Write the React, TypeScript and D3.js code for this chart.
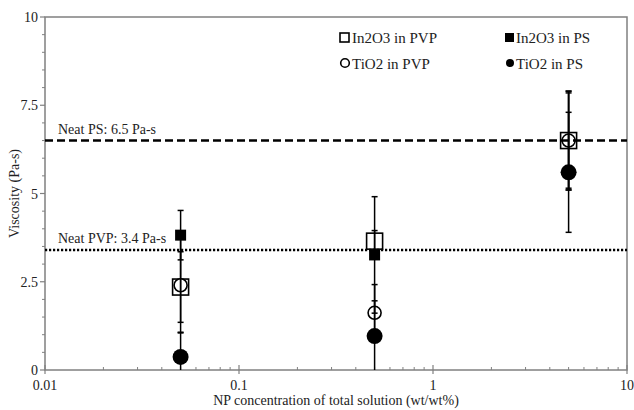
import React from "react";
import * as d3 from "d3";

const concentrations = [0.05, 0.5, 5];
const in2o3PVP = [2.35, 3.65, 6.5];
const in2o3PVPErr = [1.0, 0.3, 1.35];
const in2o3PS = [3.82, 3.26, 6.5];
const in2o3PSErr = [0.7, 1.65, 1.4];
const tio2PVP = [2.4, 1.62, 6.5];
const tio2PVPErr = [1.35, 0.8, 1.4];
const tio2PS = [0.37, 0.96, 5.6];
const tio2PSErr = [0.7, 1.0, 1.7];
const yTicks = [0, 2.5, 5, 7.5, 10];
const yTickLabels = ["0", "2.5", "5", "7.5", "10"];
const xTicks = [0.01, 0.1, 1, 10];
const xTickLabels = ["0.01", "0.1", "1", "10"];
const neatPS = 6.5;
const neatPVP = 3.4;
const neatPSLabel = "Neat PS: 6.5 Pa-s";
const neatPVPLabel = "Neat PVP: 3.4 Pa-s";

const W = 634, H = 410;
const L = 45, R = 627, T = 17, B = 370;
const FONT = "'Liberation Serif', 'DejaVu Serif', serif";

export default function App() {
  const x = d3.scaleLog().domain([0.01, 10]).range([L, R]);
  const y = d3.scaleLinear().domain([0, 10]).range([B, T]);
  const cy = (v: number) => Math.min(B, Math.max(T, y(v)));

  const minorX: number[] = [];
  for (let e = -2; e < 1; e++) for (let m = 2; m <= 9; m++) minorX.push(m * Math.pow(10, e));
  const minorY: number[] = d3.range(0, 10.01, 0.5).filter((v) => v % 2.5 !== 0);

  const series = [
    { vals: in2o3PS, errs: in2o3PSErr },
    { vals: tio2PS, errs: tio2PSErr },
    { vals: in2o3PVP, errs: in2o3PVPErr },
    { vals: tio2PVP, errs: tio2PVPErr },
  ];

  const errBars = series.flatMap((s, si) =>
    concentrations.map((c, i) => {
      const px = x(c);
      const y1 = cy(s.vals[i] + s.errs[i]);
      const y2 = cy(s.vals[i] - s.errs[i]);
      return (
        <g key={`e${si}-${i}`} stroke="#000" strokeWidth={1.5}>
          <line x1={px} x2={px} y1={y1} y2={y2} />
          <line x1={px - 3} x2={px + 3} y1={y1} y2={y1} />
          {s.vals[i] - s.errs[i] > 0 && <line x1={px - 3} x2={px + 3} y1={y2} y2={y2} />}
        </g>
      );
    })
  );

  return (
    <svg width={W} height={H} style={{ position: "absolute", left: 0, top: 0, background: "#fff" }}>
      <rect x={0} y={0} width={W} height={H} fill="#fff" />
      {/* frame */}
      <rect x={L} y={T} width={R - L} height={B - T} fill="none" stroke="#808080" strokeWidth={1.5} />
      {/* y ticks */}
      {yTicks.map((v) => (
        <line key={`yt${v}`} x1={L - 5} x2={L} y1={y(v)} y2={y(v)} stroke="#808080" strokeWidth={1.2} />
      ))}
      {minorY.map((v) => (
        <line key={`ym${v}`} x1={L - 3} x2={L} y1={y(v)} y2={y(v)} stroke="#808080" strokeWidth={1} />
      ))}
      {yTicks.map((v, i) => (
        <text key={`yl${v}`} x={L - 7} y={y(v) + 5} textAnchor="end" fontFamily={FONT} fontSize={14} fill="#222">
          {yTickLabels[i]}
        </text>
      ))}
      {/* x ticks */}
      {xTicks.map((v) => (
        <line key={`xt${v}`} x1={x(v)} x2={x(v)} y1={B - 5} y2={B + 4} stroke="#808080" strokeWidth={1.2} />
      ))}
      {minorX.map((v) => (
        <line key={`xm${v}`} x1={x(v)} x2={x(v)} y1={B - 3} y2={B} stroke="#808080" strokeWidth={1} />
      ))}
      {xTicks.map((v, i) => (
        <text key={`xl${v}`} x={x(v)} y={B + 20} textAnchor="middle" fontFamily={FONT} fontSize={14} fill="#222">
          {xTickLabels[i]}
        </text>
      ))}
      <text x={(L + R) / 2} y={405} textAnchor="middle" fontFamily={FONT} fontSize={14} fill="#222">
        NP concentration of total solution (wt/wt%)
      </text>
      <text
        transform={`translate(19,${(T + B) / 2}) rotate(-90)`}
        textAnchor="middle"
        fontFamily={FONT}
        fontSize={14}
        fill="#222"
      >
        Viscosity (Pa-s)
      </text>

      {/* markers */}
      {concentrations.map((c, i) => (
        <rect key={`fs${i}`} x={x(c) - 5.5} y={y(in2o3PS[i]) - 5.5} width={11} height={11} fill="#000" />
      ))}
      {concentrations.map((c, i) => (
        <circle key={`fc${i}`} cx={x(c)} cy={y(tio2PS[i])} r={8} fill="#000" />
      ))}
      {concentrations.map((c, i) => (
        <rect key={`os${i}`} x={x(c) - 8} y={y(in2o3PVP[i]) - 8} width={16} height={16} fill="#fff" stroke="#000" strokeWidth={1.6} />
      ))}
      {concentrations.map((c, i) => (
        <circle key={`oc${i}`} cx={x(c)} cy={y(tio2PVP[i])} r={6.5} fill="#fff" stroke="#000" strokeWidth={1.6} />
      ))}
      {errBars}

      {/* reference lines */}
      <line x1={L} x2={R} y1={y(neatPS)} y2={y(neatPS)} stroke="#000" strokeWidth={2.5} strokeDasharray="8,4" />
      <line x1={L} x2={R} y1={y(neatPVP)} y2={y(neatPVP)} stroke="#000" strokeWidth={2.5} strokeDasharray="2.2,1.8" />
      <text x={58} y={y(neatPS) - 7} fontFamily={FONT} fontSize={14} fill="#222">{neatPSLabel}</text>
      <text x={58} y={y(neatPVP) - 7} fontFamily={FONT} fontSize={14} fill="#222">{neatPVPLabel}</text>

      {/* legend */}
      <rect x={340} y={33} width={9} height={9} fill="#fff" stroke="#000" strokeWidth={1.6} />
      <text x={352} y={42.5} fontFamily={FONT} fontSize={15} fill="#222">In2O3 in PVP</text>
      <rect x={505} y={33} width={9} height={9} fill="#000" />
      <text x={516} y={42.5} fontFamily={FONT} fontSize={15} fill="#222">In2O3 in PS</text>
      <circle cx={345} cy={63} r={4.3} fill="#fff" stroke="#000" strokeWidth={1.6} />
      <text x={352} y={68.5} fontFamily={FONT} fontSize={15} fill="#222">TiO2 in PVP</text>
      <circle cx={510} cy={63} r={4} fill="#000" />
      <text x={516} y={68.5} fontFamily={FONT} fontSize={15} fill="#222">TiO2 in PS</text>
    </svg>
  );
}
